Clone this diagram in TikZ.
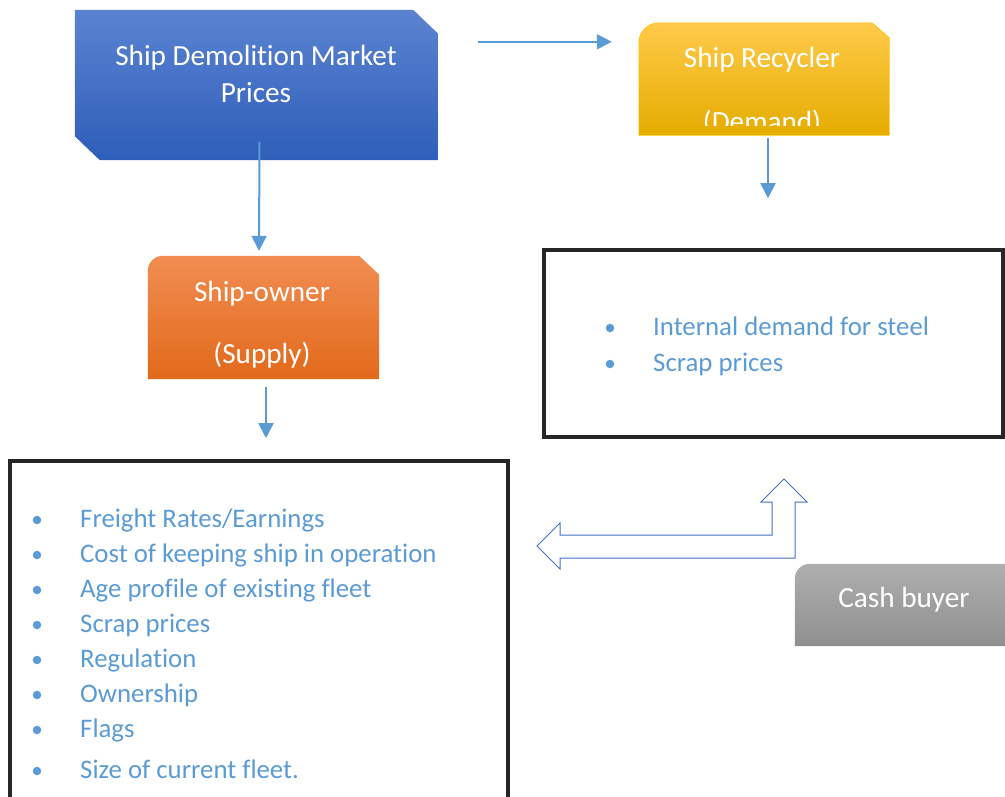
\documentclass[tikz,border=0pt]{standalone}
\usepackage{fontspec}
\setmainfont{Carlito}[Ligatures=NoCommon]
\definecolor{smBlueTop}{HTML}{5B83D1}
\definecolor{smBlueBot}{HTML}{2E5EB9}
\definecolor{smGoldTop}{HTML}{FFCA4A}
\definecolor{smGoldMid}{HTML}{FFC000}
\definecolor{smGoldBot}{HTML}{E5AC00}
\definecolor{smOrangeTop}{HTML}{F18D52}
\definecolor{smOrangeMid}{HTML}{F07D2C}
\definecolor{smOrangeBot}{HTML}{E2691A}
\definecolor{smGreyTop}{HTML}{AEAEAE}
\definecolor{smGreyBot}{HTML}{8F8F8F}
\definecolor{smArrow}{HTML}{5B9BD5}
\definecolor{smItem}{HTML}{5B9BD5}
\definecolor{smOutline}{HTML}{4472C4}
\definecolor{smFrame}{HTML}{262626}
\usetikzlibrary{arrows.meta,positioning,calc}

\begin{document}
\begin{tikzpicture}[x=1pt,y=-1pt,
  box/.style 2 args={minimum width=#1pt,minimum height=#2pt,inner sep=0pt},
  title/.style={text=white,font=\fontsize{29.2}{35}\selectfont,anchor=base,inner sep=0pt},
  item/.style={text=smItem,font=\fontsize{26.8}{32}\selectfont,anchor=base west,inner sep=0pt},
  dot/.style={circle,fill=smItem,minimum size=8.5pt,inner sep=0pt},
  flow/.style={draw=smArrow,line width=2pt,-{Triangle[width=15pt,length=15pt]}},
  frame/.style={draw=smFrame,line width=3.5pt}]
\useasboundingbox (0,0) rectangle (1005,796);
% boxes
\node[box={363}{150}] (market)   at (256.5,85)  {};
\node[box={250}{112}] (recycler) at (764,79)    {};
\node[box={231}{123}] (owner)    at (263.5,317.5) {};
\node[box={217}{82}]  (cash)     at (903.5,605) {};
\node[box={459}{187},frame] (steel)   at (773.5,343.5) {};
\node[box={498}{351},frame] (factors) at (259,636.5)   {};
% market prices, chamfered corners
\shade[top color=smBlueTop,bottom color=smBlueBot]
  (market.north west) -- ($(market.north east)+(-25,0)$) -- ($(market.north east)+(0,24)$)
  -- (market.south east) -- ($(market.south west)+(25,0)$) -- ($(market.south west)+(0,-24)$) -- cycle;
\node[title] (marketA) at (256,65)  {Ship Demolition Market};
\node[title] (marketB) at (256,102) {Prices};
% recycler
\shade[top color=smGoldTop,middle color=smGoldMid,bottom color=smGoldBot,draw=smGoldMid,line width=0.6pt]
  (recycler.south west) -- ($(recycler.north west)+(0,20)$)
  .. controls ($(recycler.north west)+(0,9)$) and ($(recycler.north west)+(9,0)$) .. ($(recycler.north west)+(20,0)$)
  -- ($(recycler.north east)+(-17,0)$) -- ($(recycler.north east)+(0,15)$) -- (recycler.south east) -- cycle;
\begin{scope}
  % text area ends above the box bottom
  \clip (recycler.north west) rectangle ($(recycler.south east)+(0,-10)$);
  \node[title] (recyclerA) at (762,67)  {Ship Recycler};
  \node[title] (recyclerB) at (762,131) {(Demand)};
\end{scope}
% ship-owner
\shade[top color=smOrangeTop,middle color=smOrangeMid,bottom color=smOrangeBot]
  (owner.south west) -- ($(owner.north west)+(0,15)$)
  .. controls ($(owner.north west)+(0,6.7)$) and ($(owner.north west)+(6.7,0)$) .. ($(owner.north west)+(15,0)$)
  -- ($(owner.north east)+(-20,0)$) -- ($(owner.north east)+(0,19)$) -- (owner.south east) -- cycle;
\node[title] (ownerA) at (262,301) {Ship-owner};
\node[title] (ownerB) at (262,363) {(Supply)};
% cash buyer
\shade[top color=smGreyTop,bottom color=smGreyBot]
  (cash.south west) -- ($(cash.north west)+(0,15)$)
  .. controls ($(cash.north west)+(0,6.7)$) and ($(cash.north west)+(6.7,0)$) .. ($(cash.north west)+(15,0)$)
  -- (cash.north east) -- (cash.south east) -- cycle;
\node[title] (cashA) at (904,607) {Cash buyer};
% flows
\draw[flow] ($(market.north east)+(40,32)$) -- ($(recycler.north west)+(-27,19)$);
\draw[flow] ($(market.south)+(3,-18)$) -- ($(owner.north)+(-4.5,-5)$);
\draw[flow] ($(recycler.south)+(4,3)$) -- ($(recycler.south)+(4,63)$);
\draw[flow] ($(owner.south)+(2.5,8)$) -- ($(owner.south)+(2.5,59)$);
% recycler factors
\node[dot] (s1) at (610,328) {};
\node[dot] (s2) at (610,364) {};
\node[item] (steelA) at (653,335) {Internal demand for steel};
\node[item] (steelB) at (653,371) {Scrap prices};
% ship-owner factors
\foreach \txt [count=\i] in {Freight Rates/Earnings,Cost of keeping ship in operation,
    Age profile of existing fleet,Scrap prices,Regulation,Ownership,Flags}{
  \node[dot]  (d\i) at (37,{520+35*(\i-1)}) {};
  \node[item] (f\i) at (80,{527+35*(\i-1)}) {\txt};
}
\node[dot]  (d8) at (37,771) {};
\node[item] (f8) at (80,778) {Size of current fleet.};
% two-way block arrow
\draw[draw=smOutline,line width=1pt,fill=white,line join=miter]
  (537,546) -- (560,523) -- (560,535) -- (772,535) -- (772,502) -- (761,502) -- (784,479)
  -- (807,502) -- (795,502) -- (795,558) -- (560,558) -- (560,569) -- cycle;
\end{tikzpicture}
\end{document}
